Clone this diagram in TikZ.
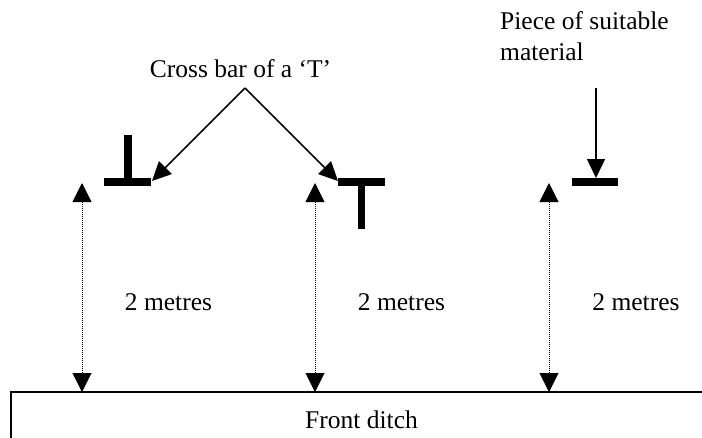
\documentclass[tikz,border=0pt]{standalone}
\usepackage{fontspec}
\setmainfont{Liberation Serif}
\usetikzlibrary{arrows.meta}

\begin{document}
\begin{tikzpicture}[x=1pt,y=-1pt,
  lbl/.style={inner sep=0pt, anchor=base, font=\fontsize{25.5}{31}\selectfont},
  bar/.style={line width=7.5pt},
  pointer/.style={-{Triangle[length=19pt,width=18pt]}, line width=1.5pt},
  measure/.style={{Triangle[length=19pt,width=19pt]}-{Triangle[length=19pt,width=19pt]}, line width=1pt, densely dotted}]
\useasboundingbox (0,0) rectangle (702,437);
% front ditch
\draw[line width=1.3pt] (11,445) -- (11,392) -- (710,392);
\node[lbl] (ditch) at (361.5,428) {Front ditch};
% the three bars
\draw[bar] (104,182) -- (151,182);
\draw[bar] (128,135) -- (128,182);
\draw[bar] (338,182) -- (385,182);
\draw[bar] (361.5,182) -- (361.5,229);
\draw[bar] (572,182) -- (618,182);
\coordinate (barA) at (152,181);
\coordinate (barB) at (338,181);
\coordinate (barC) at (596,178);
% labels and pointers
\node[lbl] (cross) at (240.5,77) {Cross bar of a `T'};
\coordinate (apex) at (245,88);
\draw[pointer] (apex) -- (barA);
\draw[pointer] (apex) -- (barB);
\node[lbl, anchor=base west, align=left] (piece) at (500,60) {Piece of suitable\\material};
\coordinate (pieceTop) at (596,88);
\draw[pointer] (pieceTop) -- (barC);
% 2 metre spacings
\foreach \x/\t [count=\i] in {82/168.5, 315/401.5, 549/636}{
  \coordinate (top\i) at (\x,183);
  \coordinate (foot\i) at (\x,392);
  \draw[measure] (top\i) -- (foot\i);
  \node[lbl] (dist\i) at (\t,310) {2 metres};
}
\end{tikzpicture}
\end{document}
